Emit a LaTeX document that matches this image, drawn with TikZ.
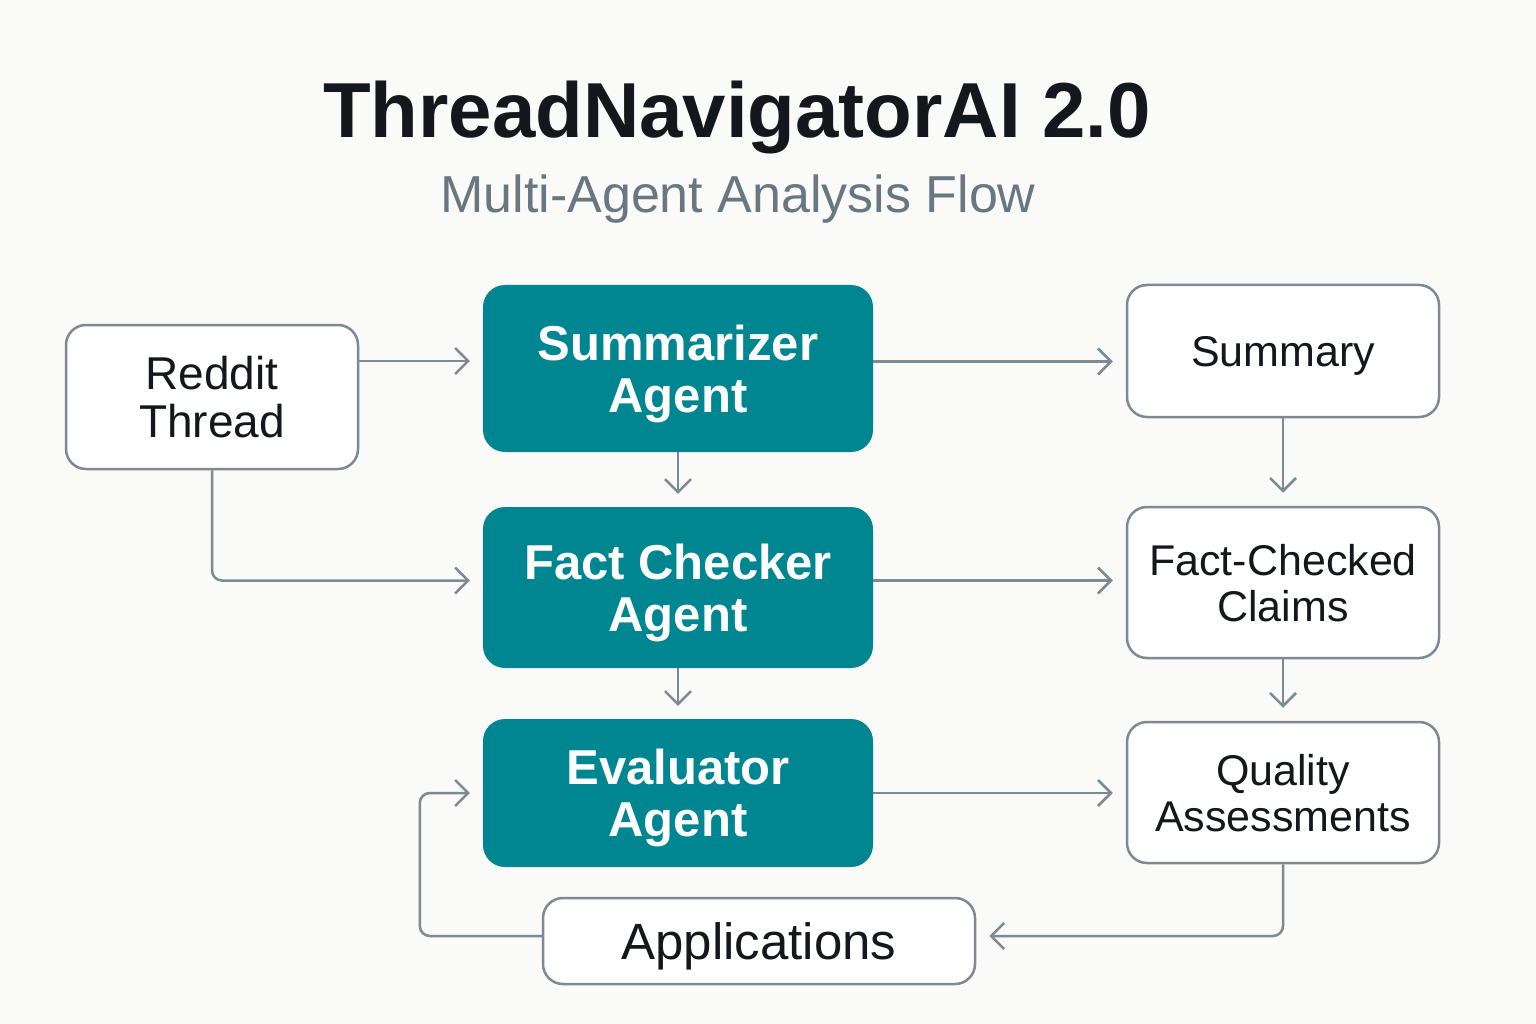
\documentclass[tikz,border=0pt]{standalone}
\usepackage{fontspec}
\setmainfont{Liberation Sans}
\usetikzlibrary{arrows.meta}
\definecolor{agentteal}{HTML}{008691}
\definecolor{linegray}{HTML}{7D8A93}
\definecolor{subgray}{HTML}{697780}
\definecolor{inkblack}{HTML}{14181C}
\definecolor{paper}{HTML}{FAFAF8}
\begin{document}
\begin{tikzpicture}[x=1pt,y=-1pt]
        \tikzstyle{agent}=[fill=agentteal,draw=none,rounded corners=22pt,text=white,align=center,inner sep=0pt,text depth=-8pt,minimum width=390pt,font=\bfseries\fontsize{49}{52}\selectfont]
        \tikzstyle{output}=[fill=white,draw=linegray,line width=2.5pt,rounded corners=20pt,text=inkblack,align=center,inner sep=0pt,text depth=0pt,minimum width=312pt,font=\fontsize{43}{46}\selectfont]
        \tikzstyle{flow}=[draw=linegray,line width=2.5pt,rounded corners=10pt,-{Straight Barb[length=13pt,width=26pt,line width=2.5pt]},shorten >=13pt]
        \fill[paper] (0,0) rectangle (1536,1024);
        \node[anchor=base,text=inkblack,font=\bfseries\fontsize{78}{90}\selectfont] (title) at (737,138) {ThreadNavigatorAI 2.0};
        \node[anchor=base,text=subgray,font=\fontsize{52}{60}\selectfont] (subtitle) at (738,213) {Multi-Agent Analysis Flow};
        \node[output,minimum width=292pt,minimum height=144pt,font=\fontsize{46}{48}\selectfont] (reddit) at (212,397) {Reddit\\Thread};
        \node[agent,minimum height=167pt] (summ) at (678,368.5) {Summarizer\\Agent};
        \node[agent,minimum height=161pt] (fact) at (678,587.5) {Fact Checker\\Agent};
        \node[agent,minimum height=148pt] (eval) at (678,793) {Evaluator\\Agent};
        \node[output,minimum height=132pt] (summary) at (1283,351) {Summary};
        \node[output,minimum height=151pt] (claims) at (1283,582.5) {Fact-Checked\\Claims};
        \node[output,minimum height=141pt] (quality) at (1283,792.5) {Quality\\Assessments};
        \node[output,minimum width=432pt,minimum height=86pt,font=\fontsize{51}{56}\selectfont] (apps) at (759,941) {Applications};
        \draw[flow] ([yshift=36pt]reddit.east) -- ([yshift=36pt]reddit.east -| summ.west);
        \draw[flow] (reddit.south) |- ([yshift=7pt]fact.west);
        \draw[flow] (summ.south) -- (fact.north);
        \draw[flow] (fact.south) -- (eval.north);
        \draw[flow] ([yshift=7pt]summ.east) -- ([yshift=7pt]summ.east -| summary.west);
        \draw[flow] ([yshift=7pt]fact.east) -- ([yshift=7pt]fact.east -| claims.west);
        \draw[flow] (eval.east) -- (eval.east -| quality.west);
        \draw[flow] (summary.south) -- (claims.north);
        \draw[flow] (claims.south) -- (quality.north);
        \draw[flow] (quality.south) |- ([yshift=5pt]apps.east);
        \draw[flow] ([yshift=5pt]apps.west) -| ([xshift=-63pt]eval.west) -- (eval.west);
    \end{tikzpicture}
\end{document}
